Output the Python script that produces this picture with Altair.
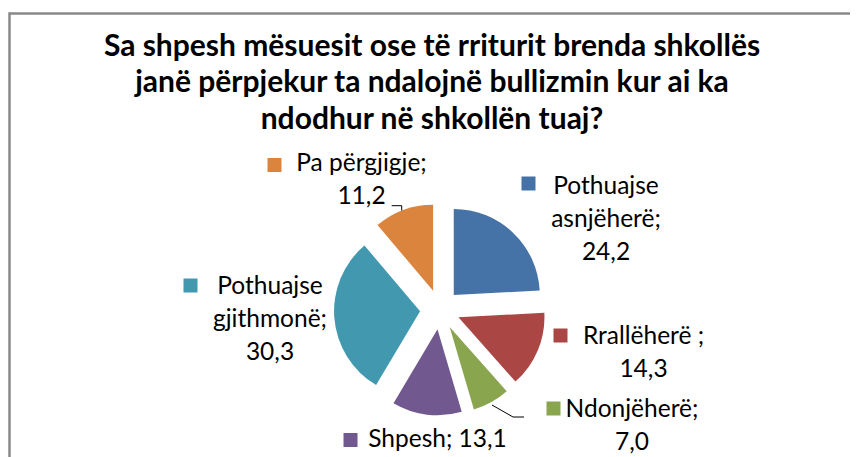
import altair as alt
import pandas as pd

# ---- data ----
categories = ["Pothuajse asnjëherë", "Rrallëherë", "Ndonjëherë", "Shpesh",
              "Pothuajse gjithmonë", "Pa përgjigje"]
values = [24.2, 14.3, 7.0, 13.1, 30.3, 11.2]
colors = ["#4572A7", "#AA4643", "#89A54E", "#71588F", "#4198AF", "#DB843D"]

title_lines = ["Sa shpesh mësuesit ose të rriturit brenda shkollës",
               "janë përpjekur ta ndalojnë bullizmin kur ai ka",
               "ndodhur në shkollën tuaj?"]

# label text templates ({v} is the value)
label_lines = {
    "Pothuajse asnjëherë": ["Pothuajse", "asnjëherë;", "{v}"],
    "Rrallëherë": ["Rrallëherë ;", "{v}"],
    "Ndonjëherë": ["Ndonjëherë;", "{v}"],
    "Shpesh": ["Shpesh; {v}"],
    "Pothuajse gjithmonë": ["Pothuajse", "gjithmonë;", "{v}"],
    "Pa përgjigje": ["Pa përgjigje;", "{v}"],
}

# ---- layout (pixels, chart coordinates) ----
W, H = 842, 449
CX, CY, EXPLODE, RADIUS = 432, 301.5, 20, 86
label_layout = {  # text centre x, first line centre y ; marker centre x, y
    "Pothuajse asnjëherë": (598, 179, 520.5, 175.5),
    "Rrallëherë": (635.5, 329, 552.5, 327.5),
    "Ndonjëherë": (624, 402, 545.5, 400.5),
    "Shpesh": (429.5, 432, 342.5, 432),
    "Pothuajse gjithmonë": (262, 279, 182.5, 277.5),
    "Pa përgjigje": (353.5, 156, 266.5, 157),
}
leaders = [
    [(383.7, 197.7), (393.7, 197.7), (393.7, 202.5)],
    [(484, 397), (505, 409), (516, 409)],
]

FONT = "Lato"

df = pd.DataFrame({"cat": categories, "value": values, "order": range(len(values))})

color = alt.Color("cat:N", scale=alt.Scale(domain=categories, range=colors), legend=None)

arcs = (
    alt.Chart(df)
    .transform_joinaggregate(total="sum(value)")
    .transform_window(cum="sum(value)", sort=[alt.SortField("order")], frame=[None, 0])
    .transform_calculate(
        t0="(datum.cum - datum.value) / datum.total * 2 * PI",
        t1="datum.cum / datum.total * 2 * PI",
        ex="sin((datum.cum - datum.value / 2) / datum.total * 2 * PI)",
        ey="-cos((datum.cum - datum.value / 2) / datum.total * 2 * PI)",
    )
    .mark_arc(outerRadius=RADIUS)
    .encode(
        theta=alt.Theta("t0:Q", scale=None),
        theta2="t1:Q",
        x=alt.X("ex:Q", axis=None,
                scale=alt.Scale(domain=[-1, 1], range=[CX - EXPLODE, CX + EXPLODE], nice=False, zero=False)),
        y=alt.Y("ey:Q", axis=None,
                scale=alt.Scale(domain=[-1, 1], range=[CY - EXPLODE, CY + EXPLODE], nice=False, zero=False)),
        color=color,
    )
)

def fmt(v):
    return f"{v:.1f}".replace(".", ",")

lab_rows = []
for c, v in zip(categories, values):
    tx, ty, sx, sy = label_layout[c]
    lab_rows.append({
        "cat": c,
        "text": [s.format(v=fmt(v)) for s in label_lines[c]],
        "tx": tx, "ty": ty, "sx": sx, "sy": sy,
    })
labdf = pd.DataFrame(lab_rows)

texts = alt.Chart(labdf).mark_text(
    font=FONT, fontSize=24.5, color="#000000", align="center", baseline="middle", lineHeight=33
).encode(
    x=alt.X("tx:Q", scale=None),
    y=alt.Y("ty:Q", scale=None),
    text="text",
)

markers = alt.Chart(labdf).mark_square(size=196, opacity=1, filled=True).encode(
    x=alt.X("sx:Q", scale=None),
    y=alt.Y("sy:Q", scale=None),
    color=color,
)

lrows = []
for i, pts in enumerate(leaders):
    for j, (x, y) in enumerate(pts):
        lrows.append({"g": i, "k": j, "lx": x, "ly": y})
leader_lines = alt.Chart(pd.DataFrame(lrows)).mark_line(color="#000000", strokeWidth=1).encode(
    x=alt.X("lx:Q", scale=None),
    y=alt.Y("ly:Q", scale=None),
    detail="g:N",
    order="k:Q",
)

title = alt.Chart(pd.DataFrame({"t": [0]})).mark_text(
    text=title_lines, font=FONT, fontSize=30, fontWeight="bold", color="#000000",
    align="center", baseline="middle", lineHeight=36.5,
).encode(x=alt.value(424), y=alt.value(38.5))

frame_top = alt.Chart(pd.DataFrame({"t": [0]})).mark_rule(color="#898989", strokeWidth=2.5).encode(
    x=alt.value(1.5), x2=alt.value(W), y=alt.value(5.5))
frame_left = alt.Chart(pd.DataFrame({"t": [0]})).mark_rule(color="#898989", strokeWidth=2.5).encode(
    x=alt.value(1.5), y=alt.value(4.3), y2=alt.value(H))

chart = (
    alt.layer(frame_top, frame_left, arcs, leader_lines, markers, texts, title)
    .resolve_scale(x="independent", y="independent")
    .properties(width=W, height=H, padding=0, autosize=alt.AutoSizeParams(type="none"),
                background="#ffffff")
    .configure_view(stroke=None)
)

chart.save("out.html", embed_options={"renderer": "svg", "actions": False})
